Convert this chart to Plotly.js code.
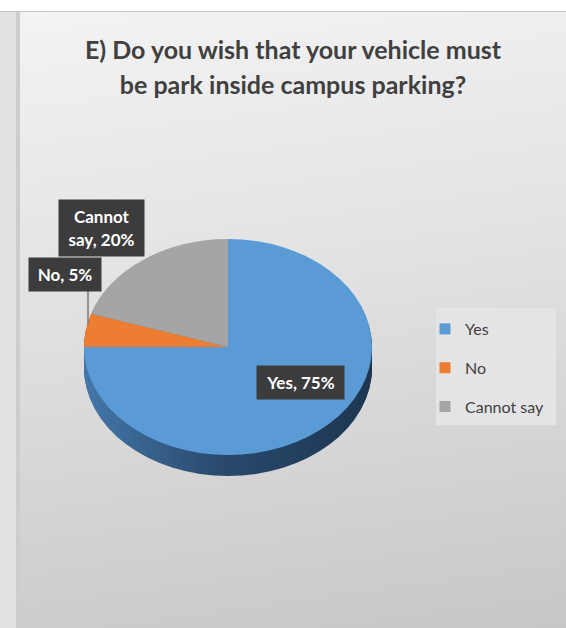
<!DOCTYPE html>
<html><head><meta charset="utf-8">
<script src="https://cdn.plot.ly/plotly-3.0.1.min.js"></script>
<style>
body{margin:0;background:#fff;width:566px;height:628px;overflow:hidden;position:relative}
#bgTop{position:absolute;left:0;top:11px;width:566px;height:1px;background:#c8c8c8}
#bgLeft{position:absolute;left:0;top:12px;width:16px;height:616px;background:#e2e2e2}
#bgLeftLine{position:absolute;left:16px;top:12px;width:4px;height:616px;background:#cdcdcd}
#bgChart{position:absolute;left:20px;top:12px;width:546px;height:616px;background:linear-gradient(172deg,#f3f3f3 0%,#e3e3e3 40%,#c7c7c7 100%)}
#chart{position:absolute;left:0;top:0;width:566px;height:628px}
</style></head><body>
<div id="bgTop"></div><div id="bgLeft"></div><div id="bgLeftLine"></div><div id="bgChart"></div>
<div id="chart"></div>
<script>
// ---- data ----
const categories = ['Yes', 'No', 'Cannot say'];
const percents = [75, 5, 20];
const titleLines = ['E) Do you wish that your vehicle must', 'be park inside campus parking?'];

// ---- style ----
const colors = ['#5B9BD5', '#ED7D31', '#A5A5A5'];
const sideColors = ['#29496c', '#a65620', '#747474'];
const W = 566, H = 628;
const cx = 228, cy = 347, rx = 144, squash = 0.75, depth = 21;
const labelPos = [[300.5, 382.5, 85, 31], [65, 274.5, 70, 31], [101.5, 228, 83, 54]];
const FONT = 'Lato, "Open Sans", sans-serif';

function domainFor(offsetPx) {
  const cyU = cy + offsetPx / squash;
  return {x: [(cx - rx) / W, (cx + rx) / W], y: [1 - (cyU + rx) / H, 1 - (cyU - rx) / H]};
}

const traces = [];
for (let k = depth; k >= 1; k -= 1) {
  traces.push({
    type: 'pie', labels: categories, values: percents, sort: false, direction: 'clockwise', rotation: 0,
    domain: domainFor(k), textinfo: 'none', hoverinfo: 'skip', showlegend: false,
    marker: {colors: sideColors, line: {width: 0}}
  });
}
traces.push({
  type: 'pie', labels: categories, values: percents, sort: false, direction: 'clockwise', rotation: 0,
  domain: domainFor(0), textinfo: 'none', hoverinfo: 'skip', showlegend: false,
  marker: {colors: colors, line: {width: 0}}
});
categories.forEach((c, i) => {
  traces.push({
    type: 'scatter', mode: 'markers', x: [null], y: [null], name: c, legendgroup: 'g' + i,
    marker: {symbol: 'square', size: 11, color: colors[i]}, hoverinfo: 'skip'
  });
});

const annotations = categories.map((c, i) => ({
  xref: 'paper', yref: 'paper', x: labelPos[i][0] / W, y: 1 - labelPos[i][1] / H,
  xanchor: 'center', yanchor: 'middle', showarrow: false,
  text: '<b>' + c.replace('Cannot say', 'Cannot<br>say') + ', ' + percents[i] + '%</b>',
  bgcolor: '#3c3c3c', width: labelPos[i][2], height: labelPos[i][3],
  font: {family: FONT, size: 17, color: '#ffffff'}
}));

const shapes = [
  {type: 'rect', xref: 'paper', yref: 'paper', x0: 436 / W, x1: 556 / W, y0: 1 - 425 / H, y1: 1 - 308 / H,
   fillcolor: '#e4e4e4', line: {width: 0}, layer: 'below'},
  {type: 'line', xref: 'paper', yref: 'paper', x0: 88 / W, x1: 88 / W, y0: 1 - 290 / H, y1: 1 - 325 / H,
   line: {color: '#7a7a7a', width: 1.5}}
];

const layout = {
  width: W, height: H, margin: {l: 0, r: 0, t: 0, b: 0},
  paper_bgcolor: 'rgba(0,0,0,0)', plot_bgcolor: 'rgba(0,0,0,0)',
  title: {
    text: titleLines.map(t => "<span style='font-size:25px'><b>" + t + '</b></span>').join('<br>'),
    x: 293 / W, xanchor: 'center', xref: 'paper', y: 1 - 59 / H, yanchor: 'top', yref: 'container',
    font: {family: FONT, size: 27, color: '#404040'}
  },
  xaxis: {visible: false}, yaxis: {visible: false},
  showlegend: true,
  legend: {x: 425 / W, y: 1 - 312 / H, xanchor: 'left', yanchor: 'top', bgcolor: 'rgba(0,0,0,0)',
           font: {family: FONT, size: 16, color: '#404040'}, tracegroupgap: 15, traceorder: 'grouped'},
  annotations: annotations, shapes: shapes
};

Plotly.newPlot('chart', traces, layout, {staticPlot: true}).then(gd => {
  const svg = gd.querySelector('.main-svg');
  const ns = 'http://www.w3.org/2000/svg';
  const defs = document.createElementNS(ns, 'defs');
  defs.innerHTML = '<linearGradient id="sideGrad" x1="0" y1="0" x2="1" y2="0">' +
    '<stop offset="0" stop-color="#4477a9"/><stop offset="0.45" stop-color="#2a4b6f"/>' +
    '<stop offset="1" stop-color="#1d3550"/></linearGradient>';
  svg.insertBefore(defs, svg.firstChild);
  const pl = gd.querySelector('.pielayer');
  if (pl) {
    pl.setAttribute('transform', `translate(0,${cy}) scale(1,${squash}) translate(0,${-cy})`);
    const tr = pl.querySelectorAll('g.trace');
    for (let t = 0; t < tr.length - 1; t++) {
      const s = tr[t].querySelectorAll('path.surface');
      if (s[0]) s[0].style.fill = 'url(#sideGrad)';
    }
  }
});
</script>
</body></html>
